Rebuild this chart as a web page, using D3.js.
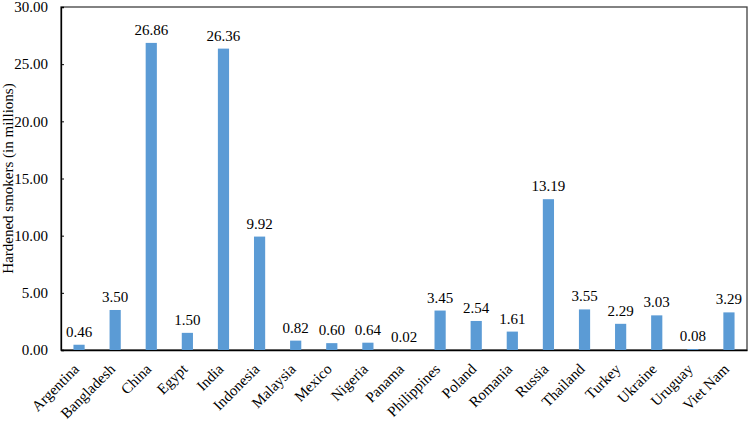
<!DOCTYPE html>
<html>
<head>
<meta charset="utf-8">
<script src="https://cdn.jsdelivr.net/npm/d3@7/dist/d3.min.js"></script>
<style>
  body { margin: 0; background: #fff; }
  svg text { font-family: "Liberation Serif", "Times New Roman", serif; fill: #000; font-size: 15px; }
</style>
</head>
<body>
<script>
// values
let countries = ['Argentina', 'Bangladesh', 'China', 'Egypt', 'India', 'Indonesia', 'Malaysia',
  'Mexico', 'Nigeria', 'Panama', 'Philippines', 'Poland', 'Romania', 'Russia', 'Thailand',
  'Turkey', 'Ukraine', 'Uruguay', 'Viet Nam'];
let smokers = [0.46, 3.50, 26.86, 1.50, 26.36, 9.92, 0.82, 0.60, 0.64, 0.02, 3.45, 2.54, 1.61,
  13.19, 3.55, 2.29, 3.03, 0.08, 3.29];
let yTicks = [0, 5, 10, 15, 20, 25, 30];

let margin = {top: 7, right: 1, bottom: 72, left: 61};
let width = 748 - (margin.left + margin.right);
let height = 422 - (margin.top + margin.bottom);

let data = countries.map(function(c, i){ return {name: c, value: smokers[i]}; });

let xScale = d3.scaleBand()
                .domain(countries)
                .range([0, width])
                .paddingInner(0.69)
                .paddingOuter(0.345);

let yScale = d3.scaleLinear()
                .domain([0, 30])
                .range([height, 0]);

let svg = d3.select('body').append('svg')
                .attr('width', 748)
                .attr('height', 422)
        .append('g')
                .attr('transform', 'translate(' + margin.left + ', ' + margin.top + ')');

// frame
svg.append('rect')
    .attr('width', width)
    .attr('height', height)
    .attr('fill', 'none')
    .attr('stroke', '#404040')
    .attr('stroke-width', 1.3);

let yAxis = d3.axisLeft(yScale)
    .tickValues(yTicks)
    .tickSize(-3)
    .tickPadding(13)
    .tickFormat(d3.format('.2f'));

let gy = svg.append('g').call(yAxis).attr('font-family', null).attr('font-size', null);
gy.select('.domain').attr('stroke', '#000').attr('stroke-width', 1.3);
gy.selectAll('.tick line').attr('stroke', '#000');

let xAxis = d3.axisBottom(xScale).tickSize(0).tickPadding(0);
let gx = svg.append('g')
    .attr('transform', 'translate(0, ' + height + ')')
    .call(xAxis)
    .attr('font-family', null).attr('font-size', null);
gx.select('.domain').attr('stroke', '#000').attr('stroke-width', 1.3);
gx.selectAll('.tick text')
    .attr('text-anchor', 'end')
    .attr('dy', 0)
    .attr('transform', 'translate(1, 20) rotate(-45)');

svg.selectAll('.bar')
    .data(data)
  .enter().append('rect')
    .attr('class', 'bar')
    .attr('x', function(d){ return xScale(d.name); })
    .attr('y', function(d){ return yScale(d.value); })
    .attr('width', xScale.bandwidth())
    .attr('height', function(d){ return height - yScale(d.value); })
    .attr('fill', '#5B9BD5');

svg.selectAll('.lbl')
    .data(data)
  .enter().append('text')
    .attr('class', 'lbl')
    .attr('x', function(d){ return xScale(d.name) + xScale.bandwidth() / 2; })
    .attr('y', function(d){ return yScale(d.value) - 8; })
    .attr('text-anchor', 'middle')
    .text(function(d){ return d.value.toFixed(2); });

svg.append('text')
    .attr('transform', 'translate(' + (-48) + ', ' + (height / 2) + ') rotate(-90)')
    .attr('text-anchor', 'middle')
    .text('Hardened smokers (in millions)');
</script>
</body>
</html>
